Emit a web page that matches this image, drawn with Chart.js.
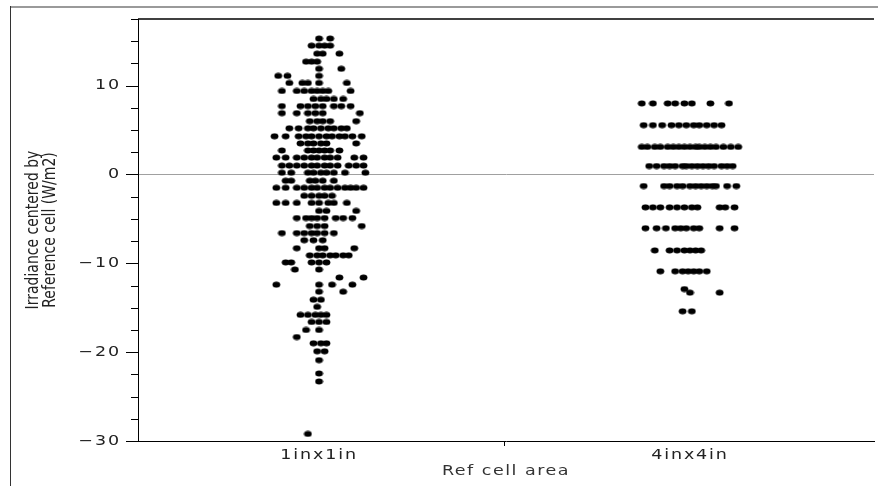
<!DOCTYPE html>
<html>
<head>
<meta charset="utf-8">
<script src="https://cdn.jsdelivr.net/npm/chart.js@4.4.1/dist/chart.umd.min.js"></script>
<style>
  html, body { margin: 0; padding: 0; background: #fff; overflow: hidden; }
  #wrap { position: relative; width: 878px; height: 486px; }
</style>
</head>
<body>
<div id="wrap"><canvas id="c" width="878" height="486"></canvas></div>
<script>
// ---- data ----
const categories = ['1inx1in', '4inx4in'];
const xAxisTitle = 'Ref cell area';
const yAxisTitle = ['Irradiance centered by', 'Reference cell (W/m2)'];

// 1inx1in: irradiance level of each row of dots (W/m2)
const g1Levels = [15.3, 14.5, 13.6, 12.7, 11.9, 11.1, 10.3, 9.4, 8.5, 7.7, 6.9, 6.0, 5.2, 4.3, 3.5, 2.7, 1.9, 1.0, 0.2,
  -0.7, -1.5, -2.4, -3.2, -4.1, -4.9, -5.8, -6.6, -7.4, -8.3, -9.1, -9.9, -10.7, -11.6, -12.4, -13.2, -14.1,
  -14.9, -15.8, -16.6, -17.5, -18.3, -19.0, -19.9, -20.9, -22.4, -23.3, -29.2];
// 1inx1in: horizontal jitter of each dot in the row (hundredths of a category)
const g1Jitter = [
  [0, 3], [-2, 0, 1.5, 3], [-0.5, 1, 5.5], [-3.5, -2, -0.5], [0, 6], [-11, -8.5, 0],
  [-8, -4.5, -3, 0, 7.5], [-10, -6, -4, -2, -0.5, 1, 2.5, 8.5], [-1.5, 0.5, 2, 4, 6.5],
  [-10, -5, -3, -1, 1, 4, 6, 8.5], [-10, -6, -3, -1, 1, 11], [-2.5, -0.5, 1, 3, 10],
  [-8, -5.5, -3, -1.5, 0.5, 2.5, 4, 6, 7.5], [-12, -9, -5.5, -3.5, -2, 0, 2, 3.5, 5.5, 7, 9, 11.5],
  [-5, -3, -1.5, 0.5, 2, 10], [-10, -3, -1.5, 0, 1.5, 3, 5.5],
  [-11.5, -9, -6, -4, -2, -0.5, 1.5, 3, 5, 9.5, 12], [-10, -8, -6, -4, -2, -0.5, 1.5, 3, 5, 8, 10, 12],
  [-10, -7.5, -3, -1.5, 0.5, 2, 4, 7, 12.5], [-9, -7.5, -2.5, -1, 1, 4],
  [-11.5, -9, -6, -4, -2, -0.5, 1.5, 3, 5, 7, 8.5, 10, 12], [-4, -2, 0, 1.5, 3.5],
  [-11.5, -9, -6, -2, 0, 2.5, 4, 7.5], [0, 2, 10], [-6, -3.5, -2, -0.5, 1.5, 4.5, 6.5, 9],
  [-2.5, -0.5, 1.5, 11.5], [-10, -6, -4, -2, -0.5, 1.5, 4], [-4, -1.5, 1], [-6, 0, 1.5, 9.5],
  [-2.5, -0.5, 1, 3, 4.5, 6.5, 8], [-9, -7.5, -2, 0, 2], [-6.5, 0], [5.5, 12], [-11.5, 0, 3.5, 9],
  [0, 6.5], [-1.5, 0.5], [-0.5], [-5, -3, -1, 0.5, 2], [-2, 0, 2], [-3.5, 0], [-6], [-1.5, 0.5, 2],
  [-0.5, 1.5], [0], [0], [0], [-3]
];

// 4inx4in
const g2Levels = [8.0, 5.55, 3.1, 0.95, -1.3, -3.7, -6.05, -8.55, -10.9, -12.9, -13.3, -15.4];
const g2Jitter = [
  [-13, -10, -6, -4, -1.5, 0.5, 5.5, 10.5],
  [-12.5, -10, -7.5, -5, -3, -1, 1, 2.5, 4.5, 6.5, 8.5],
  [-13, -11.5, -9.5, -8, -6, -4.5, -3, -1.5, 0, 1.5, 2.5, 4, 5.5, 7, 9, 11, 13],
  [-11, -9, -7, -5.5, -4, -2, -1, 0.5, 2, 3.5, 5, 6.5, 8.5, 10, 11.5],
  [-12.5, -7, -5.5, -3.5, -2, 0, 1.5, 3, 4.5, 6, 7, 10, 12.5],
  [-12, -10, -8, -5.5, -3.5, -1.5, 0.5, 2, 8, 9.5, 12],
  [-12, -9, -6.5, -4, -2.5, -1, 1, 2.5, 8, 12],
  [-9.5, -5.5, -3.5, -1.5, 0, 1.5, 3],
  [-8, -4, -2, -0.5, 1, 2.5, 4.5],
  [-1.5], [0, 8], [-2, 0.5]
];

// ---- build points ----
function expand(catPos, levels, jitter) {
  const pts = [];
  levels.forEach((v, i) => jitter[i].forEach(j => pts.push({ x: catPos + j / 100, y: v })));
  return pts;
}

// slightly wide dot, like the reference
const dot = document.createElement('canvas');
dot.width = 9; dot.height = 7;
(function () {
  const d = dot.getContext('2d');
  d.fillStyle = '#000';
  d.beginPath();
  d.ellipse(4.5, 3.5, 3.9, 3.0, 0, 0, Math.PI * 2);
  d.fill();
})();

const fmtY = v => (v < 0 ? '\u2212' + Math.abs(v) : String(v));

// the reference's text is horizontally widened; emulate by stretching each glyph run
function styleText(scale, name, spacing, sx, sy) {
  const orig = scale[name];
  scale[name] = function (...a) {
    const c = this.ctx;
    c.save();
    c.letterSpacing = spacing;
    c.fillText = function (t, x, y, mw) {
      c.save();
      c.translate(x, y);
      c.scale(sx, sy);
      if (mw === undefined) CanvasRenderingContext2D.prototype.fillText.call(c, t, 0, 0);
      else CanvasRenderingContext2D.prototype.fillText.call(c, t, 0, 0, mw);
      c.restore();
    };
    try { orig.apply(this, a); } finally { delete c.fillText; c.restore(); }
  };
}

const framePlugin = {
  id: 'frame',
  beforeDraw(chart) {
    const { ctx, width, height } = chart;
    ctx.save();
    ctx.fillStyle = '#fff';
    ctx.fillRect(0, 0, width, height);
    ctx.strokeStyle = '#9a9a9a';
    ctx.lineWidth = 2;
    ctx.beginPath(); ctx.moveTo(10, 7); ctx.lineTo(width, 7); ctx.stroke();
    ctx.strokeStyle = '#333';
    ctx.lineWidth = 1;
    ctx.beginPath(); ctx.moveTo(10.5, 6); ctx.lineTo(10.5, height); ctx.stroke();
    ctx.restore();
    if (!chart.$styled) {
      chart.$styled = true;
      styleText(chart.scales.x, 'drawLabels', '1.5px', 1.25, 1);
      styleText(chart.scales.x, 'drawTitle', '1.2px', 1.25, 1);
      styleText(chart.scales.y, 'drawLabels', '1.5px', 1.25, 1);
      styleText(chart.scales.y, 'drawTitle', '0px', 1, 1.25);
    }
  },
  afterDraw(chart) {
    const { ctx, chartArea } = chart;
    const ys = chart.scales.y;
    ctx.save();
    ctx.strokeStyle = '#000';
    ctx.lineWidth = 1.5;
    ctx.beginPath(); ctx.moveTo(chartArea.left, chartArea.top); ctx.lineTo(chartArea.right, chartArea.top); ctx.stroke();
    ctx.lineWidth = 1;
    ys.ticks.forEach(t => {
      const y = Math.round(ys.getPixelForValue(t.value)) + 0.5;
      const len = Math.abs(t.value % 10) < 1e-9 ? 12 : 7;
      ctx.beginPath(); ctx.moveTo(chartArea.left - len, y); ctx.lineTo(chartArea.left, y); ctx.stroke();
    });
    ctx.restore();
  }
};

new Chart(document.getElementById('c'), {
  type: 'scatter',
  data: {
    datasets: [
      { label: categories[0], data: expand(1, g1Levels, g1Jitter) },
      { label: categories[1], data: expand(2, g2Levels, g2Jitter) }
    ]
  },
  options: {
    responsive: false,
    animation: false,
    devicePixelRatio: 1,
    layout: { padding: { top: 19, left: 0, right: 0, bottom: 0 } },
    elements: { point: { pointStyle: dot, radius: 3.5, borderWidth: 0, backgroundColor: '#000' } },
    plugins: { legend: { display: false }, tooltip: { enabled: false } },
    scales: {
      x: {
        type: 'linear', position: 'bottom', min: 0.512, max: 2.496,
        afterBuildTicks: s => { s.ticks = [{ value: 1 }, { value: 1.5 }, { value: 2 }]; },
        afterFit: s => { s.height = 45; },
        ticks: {
          autoSkip: false, maxRotation: 0, padding: 1, color: '#222',
          font: { family: 'DejaVu Sans', size: 14 },
          callback: v => (v === 1 ? categories[0] : v === 2 ? categories[1] : '')
        },
        grid: {
          drawOnChartArea: false, tickLength: 5, tickWidth: 1,
          tickColor: c => (c.tick && c.tick.value === 1.5 ? '#000' : 'rgba(0,0,0,0)')
        },
        border: { color: '#000', width: 1 },
        title: {
          display: true, text: xAxisTitle, color: '#333',
          font: { family: 'DejaVu Sans', size: 14 }, padding: { top: 0, bottom: 6 }
        }
      },
      y: {
        type: 'linear', min: -30, max: 17.5,
        afterFit: s => { s.width = 138; },
        ticks: {
          stepSize: 2.5, autoSkip: false, padding: 5, color: '#222',
          font: { family: 'DejaVu Sans', size: 14 },
          callback: v => (Math.abs(v % 10) < 1e-9 ? fmtY(v) : '')
        },
        grid: {
          drawOnChartArea: true, tickLength: 12, tickColor: 'rgba(0,0,0,0)', lineWidth: 1,
          color: c => (c.tick && c.tick.value === 0 ? '#a0a0a0' : 'rgba(0,0,0,0)')
        },
        border: { color: '#000', width: 1 },
        title: {
          display: true, text: yAxisTitle, color: '#222',
          font: { family: 'DejaVu Sans', size: 14, lineHeight: 1.18 },
          padding: { top: 25.5, bottom: 0 }
        }
      }
    }
  },
  plugins: [framePlugin]
});
</script>
</body>
</html>
